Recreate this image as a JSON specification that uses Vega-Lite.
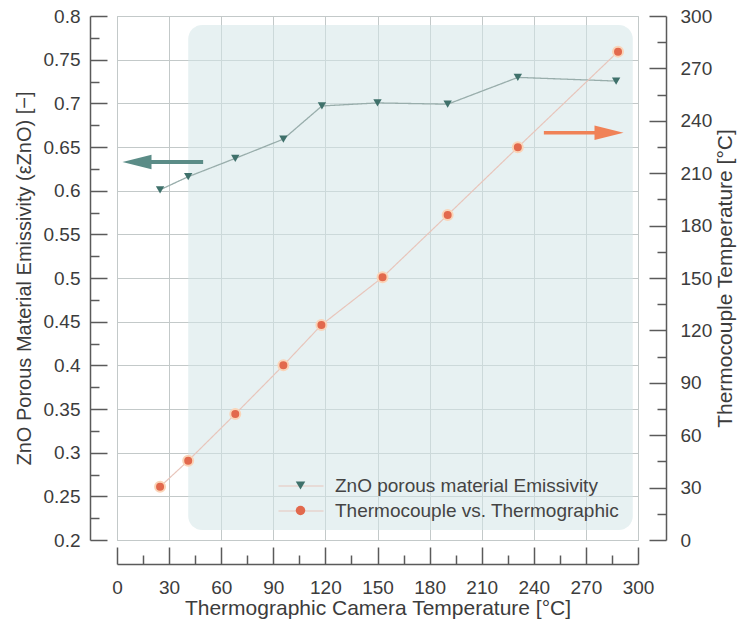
{
  "$schema": "https://vega.github.io/schema/vega-lite/v6.json",
  "width": 521,
  "height": 524,
  "autosize": {"type": "none"},
  "padding": {"left": 117, "top": 16, "right": 99, "bottom": 84},
  "background": "white",
  "config": {
    "font": "Liberation Sans",
    "view": {"stroke": "#c3c9c9", "strokeWidth": 1},
    "axis": {
      "gridColor": "#c3c9c9",
      "gridWidth": 1,
      "domainColor": "#5a5a5a",
      "tickColor": "#5a5a5a",
      "domainWidth": 1.5,
      "tickWidth": 1.5,
      "labelColor": "#3c3c3c",
      "titleColor": "#3c3c3c",
      "labelFont": "Liberation Sans",
      "titleFont": "Liberation Sans",
      "labelFontSize": 19,
      "titleFontSize": 21,
      "titleFontWeight": "normal",
      "labelFlush": false,
      "labelOverlap": false,
      "labelBound": false
    }
  },
  "datasets": {
    "zno": [
      {"x": 24.8, "y": 0.601, "series": "ZnO porous material Emissivity"},
      {"x": 41.0, "y": 0.616, "series": "ZnO porous material Emissivity"},
      {"x": 68.1, "y": 0.637, "series": "ZnO porous material Emissivity"},
      {"x": 95.8, "y": 0.659, "series": "ZnO porous material Emissivity"},
      {"x": 118.0, "y": 0.697, "series": "ZnO porous material Emissivity"},
      {"x": 150.0, "y": 0.7005, "series": "ZnO porous material Emissivity"},
      {"x": 190.4, "y": 0.699, "series": "ZnO porous material Emissivity"},
      {"x": 230.8, "y": 0.7297, "series": "ZnO porous material Emissivity"},
      {"x": 287.4, "y": 0.7255, "series": "ZnO porous material Emissivity"}
    ],
    "tc": [
      {"x": 24.8, "y": 30.5, "series": "Thermocouple vs. Thermographic"},
      {"x": 41.0, "y": 45.4, "series": "Thermocouple vs. Thermographic"},
      {"x": 68.1, "y": 72.1, "series": "Thermocouple vs. Thermographic"},
      {"x": 95.8, "y": 100.0, "series": "Thermocouple vs. Thermographic"},
      {"x": 117.7, "y": 123.1, "series": "Thermocouple vs. Thermographic"},
      {"x": 152.9, "y": 150.4, "series": "Thermocouple vs. Thermographic"},
      {"x": 190.4, "y": 186.1, "series": "Thermocouple vs. Thermographic"},
      {"x": 230.8, "y": 224.8, "series": "Thermocouple vs. Thermographic"},
      {"x": 288.5, "y": 279.6, "series": "Thermocouple vs. Thermographic"}
    ],
    "shade": [
      {"x": 41.0, "x2": 297.0, "y": 0.2115, "y2": 0.7897}
    ],
    "arrows": [
      {"part": "leftShaft", "x": 19.0, "x2": 49.6, "y": 0.6327},
      {"part": "leftHead", "x": 11.5, "y": 0.6327},
      {"part": "rightShaft", "x": 245.8, "x2": 277.0, "y": 0.6663},
      {"part": "rightHead", "x": 283.3, "y": 0.6663}
    ]
  },
  "encoding": {
    "x": {
      "field": "x",
      "type": "quantitative",
      "scale": {"domain": [0, 300], "nice": false, "zero": false},
      "axis": {
        "title": "Thermographic Camera Temperature [°C]",
        "orient": "bottom",
        "offset": 24,
        "values": [0, 15, 30, 45, 60, 75, 90, 105, 120, 135, 150, 165, 180, 195, 210, 225, 240, 255, 270, 285, 300],
        "labelExpr": "datum.value % 30 === 0 ? format(datum.value, 'd') : ''",
        "tickSize": {"condition": {"test": "datum.value % 30 === 0", "value": -17}, "value": -9},
        "gridOpacity": {"condition": {"test": "datum.value % 30 === 0", "value": 1}, "value": 0},
        "labelPadding": 31,
        "titlePadding": -8
      }
    }
  },
  "layer": [
    {
      "encoding": {
        "y": {
          "field": "y",
          "type": "quantitative",
          "scale": {"domain": [0.2, 0.8], "nice": false, "zero": false},
          "axis": {
            "title": "ZnO Porous Material Emissivity (εZnO) [−]",
            "titleFontSize": 20,
            "orient": "left",
            "offset": 27,
            "values": [0.2, 0.225, 0.25, 0.275, 0.3, 0.325, 0.35, 0.375, 0.4, 0.425, 0.45, 0.475, 0.5, 0.525, 0.55, 0.575, 0.6, 0.625, 0.65, 0.675, 0.7, 0.725, 0.75, 0.775, 0.8],
            "labelExpr": "abs(round(datum.value * 1000) % 50) === 0 ? format(datum.value, '.2~f') : ''",
            "tickSize": {"condition": {"test": "abs(round(datum.value * 1000) % 50) === 0", "value": -17}, "value": -9},
            "gridOpacity": {"condition": {"test": "abs(round(datum.value * 1000) % 50) === 0", "value": 1}, "value": 0},
            "labelPadding": 27,
            "titlePadding": 9
          }
        }
      },
      "layer": [
        {
          "data": {"name": "shade"},
          "mark": {"type": "rect", "fill": "#d3e5e8", "opacity": 0.55, "cornerRadius": 14},
          "encoding": {"x2": {"field": "x2"}, "y2": {"field": "y2"}}
        },
        {
          "data": {"name": "zno"},
          "mark": {"type": "line", "color": "#98adab", "strokeWidth": 1.3},
          "encoding": {
            "strokeDash": {
              "field": "series",
              "type": "nominal",
              "scale": {"domain": ["ZnO porous material Emissivity", "Thermocouple vs. Thermographic", "none"], "range": [[1, 0], [1, 0], [1, 0]]},
              "legend": {
                "title": null,
                "orient": "none",
                "legendX": 174,
                "legendY": 460,
                "values": ["ZnO porous material Emissivity", "Thermocouple vs. Thermographic"],
                "symbolType": "M-2.5,0L2.5,0",
                "symbolSize": 324,
                "symbolStrokeColor": "#aab7b6",
                "symbolStrokeWidth": 1.2,
                "symbolFillColor": "transparent",
                "labelFontSize": 19,
                "labelFont": "Liberation Sans",
                "labelExpr": "''",
                "labelLimit": 0,
                "rowPadding": 5,
                "padding": 0
              }
            }
          }
        },
        {
          "data": {"name": "zno"},
          "mark": {"type": "point", "filled": true, "opacity": 1, "size": 70},
          "encoding": {
            "color": {
              "field": "series",
              "type": "nominal",
              "scale": {"domain": ["ZnO porous material Emissivity", "Thermocouple vs. Thermographic"], "range": ["#3f716b", "#e2694d"]},
              "legend": {
                "title": null,
                "orient": "none",
                "legendX": 174,
                "legendY": 460,
                "labelFontSize": 19,
                "labelColor": "#444444",
                "labelFont": "Liberation Sans",
                "labelLimit": 0,
                "labelOffset": 25,
                "symbolSize": 90,
                "rowPadding": 5,
                "padding": 0
              }
            },
            "shape": {
              "field": "series",
              "type": "nominal",
              "scale": {"domain": ["ZnO porous material Emissivity", "Thermocouple vs. Thermographic"], "range": ["triangle-down", "circle"]},
              "legend": {
                "title": null,
                "orient": "none",
                "legendX": 174,
                "legendY": 460,
                "labelFontSize": 19,
                "labelColor": "#444444",
                "labelFont": "Liberation Sans",
                "labelLimit": 0,
                "labelOffset": 25,
                "symbolSize": 90,
                "rowPadding": 5,
                "padding": 0
              }
            }
          }
        },
        {
          "data": {"name": "arrows"},
          "transform": [{"filter": "datum.part === 'leftShaft'"}],
          "mark": {"type": "rule", "color": "#5b8c87", "strokeWidth": 4},
          "encoding": {"x2": {"field": "x2"}}
        },
        {
          "data": {"name": "arrows"},
          "transform": [{"filter": "datum.part === 'leftHead'"}],
          "mark": {"type": "point", "filled": true, "opacity": 1, "color": "#5b8c87", "shape": "M-1,0L1,-0.5L1,0.5Z", "size": 841},
          "encoding": {}
        },
        {
          "data": {"name": "arrows"},
          "transform": [{"filter": "datum.part === 'rightShaft'"}],
          "mark": {"type": "rule", "color": "#f08257", "strokeWidth": 3.5},
          "encoding": {"x2": {"field": "x2"}}
        },
        {
          "data": {"name": "arrows"},
          "transform": [{"filter": "datum.part === 'rightHead'"}],
          "mark": {"type": "point", "filled": true, "opacity": 1, "color": "#f08257", "shape": "M1,0L-1,-0.5L-1,0.5Z", "size": 841},
          "encoding": {}
        }
      ]
    },
    {
      "data": {"name": "tc"},
      "encoding": {
        "y": {
          "field": "y",
          "type": "quantitative",
          "scale": {"domain": [0, 300], "nice": false, "zero": false},
          "axis": {
            "title": "Thermocouple Temperature [°C]",
            "orient": "right",
            "offset": 28,
            "grid": false,
            "values": [0, 15, 30, 45, 60, 75, 90, 105, 120, 135, 150, 165, 180, 195, 210, 225, 240, 255, 270, 285, 300],
            "labelExpr": "datum.value % 30 === 0 ? format(datum.value, 'd') : ''",
            "tickSize": {"condition": {"test": "datum.value % 30 === 0", "value": -17}, "value": -9},
            "labelPadding": 31,
            "titlePadding": 24,
            "titleAngle": 270
          }
        }
      },
      "layer": [
        {
          "mark": {"type": "line", "color": "#e8c5bb", "strokeWidth": 1.2},
          "encoding": {
            "strokeDash": {"field": "series", "type": "nominal"}
          }
        },
        {
          "mark": {"type": "point", "shape": "circle", "filled": true, "opacity": 1, "size": 100, "stroke": "#fad4b8", "strokeWidth": 2},
          "encoding": {
            "color": {"field": "series", "type": "nominal"},
            "shape": {"field": "series", "type": "nominal"}
          }
        }
      ]
    }
  ],
  "resolve": {"scale": {"y": "independent"}}
}
